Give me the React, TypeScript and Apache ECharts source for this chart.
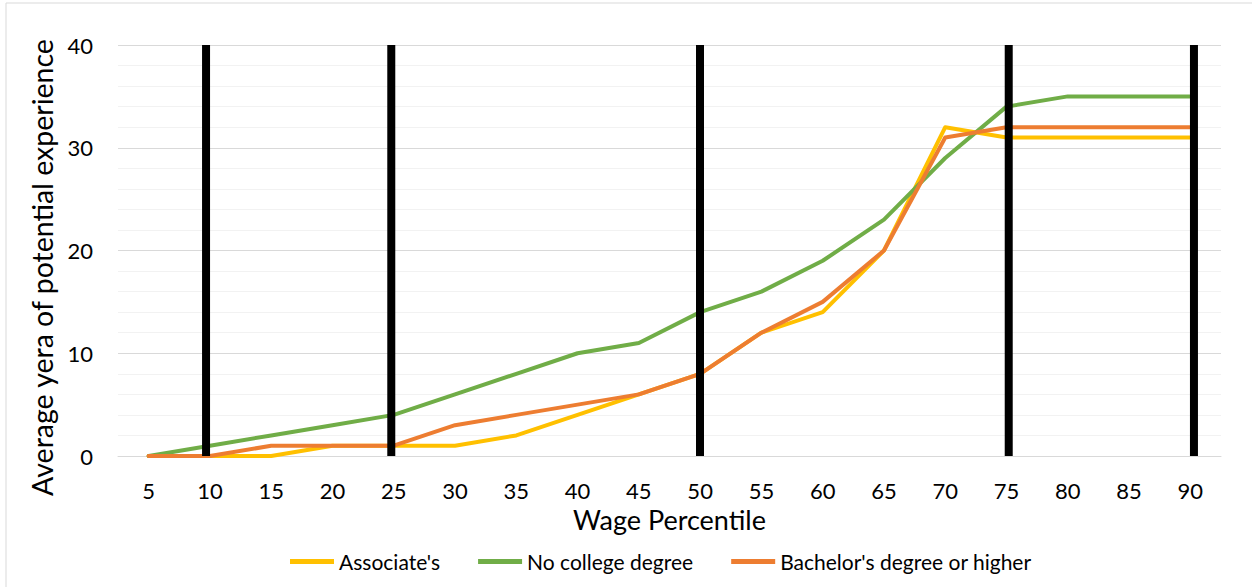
import React, { useEffect, useRef } from "react";
import * as echarts from "echarts";

const percentiles = ["5", "10", "15", "20", "25", "30", "35", "40", "45", "50", "55", "60", "65", "70", "75", "80", "85", "90"];
const associates = [0, 0, 0, 1, 1, 1, 2, 4, 6, 8, 12, 14, 20, 32, 31, 31, 31, 31];
const noCollege = [0, 1, 2, 3, 4, 6, 8, 10, 11, 14, 16, 19, 23, 29, 34, 35, 35, 35];
const bachelors = [0, 0, 1, 1, 1, 3, 4, 5, 6, 8, 12, 15, 20, 31, 32, 32, 32, 32];
const dividerPercentiles = [10, 25, 50, 75, 90];
const yTicks = { min: 0, max: 40, interval: 10 };

const FONT = "Lato";

export default function App() {
  const ref = useRef<HTMLDivElement>(null);
  useEffect(() => {
    if (!ref.current) return;
    const chart = echarts.init(ref.current, null, { renderer: "svg" });
    const lineSeries = (name: string, data: number[], color: string) => ({
      name,
      type: "line",
      data,
      xAxisIndex: 0,
      yAxisIndex: 0,
      symbol: "none",
      z: 2,
      lineStyle: { color, width: 4, cap: "round", join: "round" },
      itemStyle: { color },
    });
    const dividers = dividerPercentiles.map((p) => ({
      name: "divider" + p,
      type: "line",
      xAxisIndex: 1,
      yAxisIndex: 0,
      data: [
        [p, yTicks.min],
        [p, yTicks.max],
      ],
      symbol: "none",
      z: 5,
      silent: true,
      lineStyle: { color: "#000000", width: 8, cap: "butt" },
    }));
    chart.setOption({
      animation: false,
      backgroundColor: "#ffffff",
      grid: { left: 118, right: 31, top: 45, bottom: 131, containLabel: false },
      graphic: [
        { type: "line", shape: { x1: 6, y1: 3, x2: 1252, y2: 3 }, style: { stroke: "#D9D9D9", lineWidth: 1 } },
        { type: "line", shape: { x1: 6, y1: 3, x2: 6, y2: 587 }, style: { stroke: "#D9D9D9", lineWidth: 1 } },
      ],
      legend: {
        data: ["Associate's", "No college degree", "Bachelor's degree or higher"],
        left: 285,
        top: 546,
        icon: "rect",
        itemWidth: 44,
        itemHeight: 5,
        itemGap: 38,
        textStyle: { fontFamily: FONT, fontSize: 21, color: "#000000" },
      },
      xAxis: [
        {
          type: "category",
          data: percentiles,
          boundaryGap: true,
          name: "Wage Percentile",
          nameLocation: "middle",
          nameGap: 48,
          nameTextStyle: { fontFamily: FONT, fontSize: 27, color: "#000000" },
          axisLine: { show: true, lineStyle: { color: "#D9D9D9", width: 1 } },
          axisTick: { show: false },
          axisLabel: { fontFamily: FONT, fontSize: 22, color: "#000000", margin: 23 },
          splitLine: { show: false },
        },
        {
          type: "value",
          min: 2.87,
          max: 92.19,
          show: false,
        },
      ],
      yAxis: {
        type: "value",
        min: yTicks.min,
        max: yTicks.max,
        interval: yTicks.interval,
        name: "Average yera of potential experience",
        nameLocation: "middle",
        nameGap: 58,
        nameTextStyle: { fontFamily: FONT, fontSize: 28.5, color: "#000000", padding: [0, 34, 0, 0] },
        axisLine: { show: false },
        axisTick: { show: false },
        axisLabel: { fontFamily: FONT, fontSize: 22, color: "#000000", margin: 25 },
        splitLine: { show: true, lineStyle: { color: "#D9D9D9", width: 1 } },
        minorTick: { show: false, splitNumber: 5 },
        minorSplitLine: { show: true, lineStyle: { color: "#F2F2F2", width: 1 } },
      },
      series: [
        lineSeries("Associate's", associates, "#FFC000"),
        lineSeries("No college degree", noCollege, "#70AD47"),
        lineSeries("Bachelor's degree or higher", bachelors, "#ED7D31"),
        ...dividers,
      ],
    });
    return () => chart.dispose();
  }, []);
  return (
    <div
      ref={ref}
      style={{ position: "fixed", left: 0, top: 0, width: 1252, height: 587, background: "#fff" }}
    />
  );
}
